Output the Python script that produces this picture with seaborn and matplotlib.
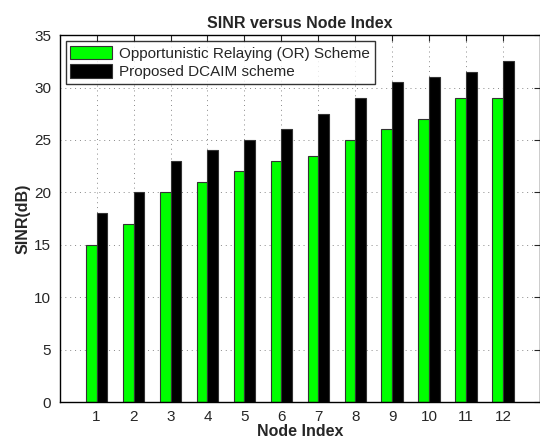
import matplotlib
matplotlib.use("Agg")
import matplotlib.pyplot as plt
import pandas as pd
import seaborn as sns

# SINR per node
nodes = [1, 2, 3, 4, 5, 6, 7, 8, 9, 10, 11, 12]
sinr_or = [15, 17, 20, 21, 22, 23, 23.5, 25, 26, 27, 29, 29]
sinr_dcaim = [18, 20, 23, 24, 25, 26, 27.5, 29, 30.5, 31, 31.5, 32.5]
scheme_names = ["Opportunistic Relaying (OR) Scheme", "Proposed DCAIM scheme"]

df = pd.DataFrame({
    "node": nodes * 2,
    "sinr": sinr_or + sinr_dcaim,
    "scheme": [scheme_names[0]] * len(nodes) + [scheme_names[1]] * len(nodes),
})

sns.set_style("white")
plt.rcParams["font.family"] = ["Liberation Sans", "DejaVu Sans"]

fig = plt.figure(figsize=(5.4, 4.41), dpi=100)
ax = fig.add_axes([0.1105, 0.0884, 0.8895, 0.832])

sns.barplot(data=df, x="node", y="sinr", hue="scheme", hue_order=scheme_names,
            palette=["#00ff00", "#000000"], width=0.58, native_scale=True,
            edgecolor="#333333", linewidth=0.8, saturation=1, errorbar=None, ax=ax)

ax.set_xlim(0, 13)
ax.set_ylim(0, 35)
ax.set_xticks(nodes)
ax.set_xticklabels([str(n) for n in nodes])
ax.set_yticks(range(0, 36, 5))
ax.tick_params(direction="in", top=True, right=True, labelsize=11, length=4, pad=6)
ax.grid(True, linestyle=(0, (1, 4)), color="#888888", linewidth=0.7)
ax.set_axisbelow(True)
for s in ax.spines.values():
    s.set_color("black")
    s.set_linewidth(1.0)

ax.set_xlabel("Node Index", fontsize=11.5, fontweight="bold", labelpad=0)
ax.set_ylabel("SINR(dB)", fontsize=11.5, fontweight="bold", labelpad=3)
ax.set_title("SINR versus Node Index", fontsize=11.5, fontweight="bold", pad=5)

leg = ax.legend(loc="upper left", fontsize=11, frameon=True, fancybox=False,
                edgecolor="black", handlelength=2.7, handleheight=1.0,
                borderaxespad=0.4, borderpad=0.3, labelspacing=0.2, handletextpad=0.5)
leg.get_frame().set_linewidth(1.0)
leg.set_title(None)

fig.savefig("out.png", dpi=100)
